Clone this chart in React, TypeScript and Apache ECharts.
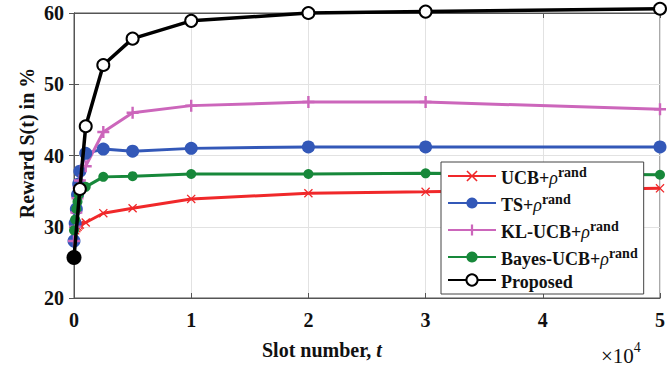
import React, { useEffect, useRef } from "react";
import * as echarts from "echarts";

const xBaselines = [0, 100, 200, 300, 400, 500, 1000, 2500, 5000, 10000, 20000, 30000, 50000];
const ucbValues = [29.0, 29.5, 29.8, 30.0, 30.2, 30.3, 30.6, 31.9, 32.6, 33.9, 34.7, 34.9, 35.4];
const tsValues = [28.0, 30.5, 32.5, 34.5, 36.0, 37.8, 40.3, 40.9, 40.6, 41.0, 41.2, 41.2, 41.2];
const klValues = [28.0, 30.0, 32.0, 34.0, 35.5, 36.5, 38.5, 43.3, 46.0, 47.0, 47.5, 47.5, 46.5];
const bayesValues = [29.5, 31.0, 32.5, 33.5, 34.5, 35.0, 35.6, 37.0, 37.1, 37.4, 37.4, 37.5, 37.3];
const xProposed = [0, 500, 1000, 2500, 5000, 10000, 20000, 30000, 50000];
const proposedValues = [25.7, 35.3, 44.1, 52.7, 56.4, 58.9, 60.0, 60.2, 60.6];
const seriesNames = ["UCB+ρrand", "TS+ρrand", "KL-UCB+ρrand", "Bayes-UCB+ρrand", "Proposed"];
const xTicks = [0, 1, 2, 3, 4, 5];
const yTicks = [20, 30, 40, 50, 60];

const SERIF = "'Liberation Serif', 'DejaVu Serif', serif";

const xMark = "path://M1,0L5,4L9,0L10,1L6,5L10,9L9,10L5,6L1,10L0,9L4,5L0,1Z";
const plusMark = "path://M4,0H6V4H10V6H6V10H4V6H0V4H4Z";

export default function App() {
  const ref = useRef<HTMLDivElement>(null);
  useEffect(() => {
    if (!ref.current) return;
    const chart = echarts.init(ref.current, null, { renderer: "svg" });
    const pair = (xs: number[], ys: number[]) => xs.map((x, i) => [x, ys[i]]);
    const common = { type: "line", clip: false, lineStyle: { width: 3 }, z: 3 };
    const option: any = {
      animation: false,
      backgroundColor: "#fff",
      grid: {
        left: 74,
        right: 8,
        top: 13,
        bottom: 78,
        show: true,
        borderColor: "#555",
        borderWidth: 1,
      },
      xAxis: [
        {
          type: "value",
          min: 0,
          max: 50000,
          interval: 10000,
          axisLine: { show: true, lineStyle: { color: "#555" } },
          axisTick: { show: true, inside: true, length: 5, lineStyle: { color: "#555" } },
          splitLine: { show: true, lineStyle: { color: "#e2e2e2" } },
          axisLabel: {
            formatter: (v: number) => String(xTicks[Math.round(v / 10000)]),
            fontFamily: SERIF,
            fontWeight: "bold",
            fontSize: 20,
            color: "#111",
            margin: 12,
          },
        },
        {
          type: "value",
          position: "top",
          min: 0,
          max: 50000,
          interval: 10000,
          axisLine: { show: true, lineStyle: { color: "#555" } },
          axisTick: { show: true, inside: true, length: 5, lineStyle: { color: "#555" } },
          splitLine: { show: false },
          axisLabel: { show: false },
        },
      ],
      yAxis: [
        {
          type: "value",
          min: 20,
          max: 60,
          interval: 10,
          axisLine: { show: true, lineStyle: { color: "#555" } },
          axisTick: { show: true, inside: true, length: 5, lineStyle: { color: "#555" } },
          splitLine: { show: true, lineStyle: { color: "#e2e2e2" } },
          axisLabel: {
            formatter: (v: number) => (yTicks.includes(v) ? String(v) : ""),
            fontFamily: SERIF,
            fontWeight: "bold",
            fontSize: 20,
            color: "#111",
            margin: 10,
          },
        },
        {
          type: "value",
          position: "right",
          min: 20,
          max: 60,
          interval: 10,
          axisLine: { show: true, lineStyle: { color: "#555" } },
          axisTick: { show: true, inside: true, length: 5, lineStyle: { color: "#555" } },
          splitLine: { show: false },
          axisLabel: { show: false },
        },
      ],
      legend: {
        orient: "vertical",
        left: 441,
        top: 162,
        width: 222,
        padding: [3, 6, 3, 6],
        itemGap: 5,
        itemWidth: 48,
        itemHeight: 14,
        backgroundColor: "#fff",
        borderColor: "#444",
        borderWidth: 1,
        borderRadius: 0,
        data: seriesNames,
        formatter: (name: string) => {
          if (name.endsWith("+ρrand")) {
            const pre = name.slice(0, name.length - 5);
            return `{b|${pre}}{i|ρ}{s|rand}`;
          }
          return `{b|${name}}`;
        },
        textStyle: {
          color: "#111",
          rich: {
            b: { fontFamily: SERIF, fontWeight: "bold", fontSize: 18, color: "#111", lineHeight: 22, verticalAlign: "bottom" },
            i: { fontFamily: SERIF, fontStyle: "italic", fontSize: 18, color: "#111", lineHeight: 22, verticalAlign: "bottom" },
            s: { fontFamily: SERIF, fontWeight: "bold", fontSize: 14, color: "#111", lineHeight: 22, verticalAlign: "top", padding: [0, 0, 8, 0] },
          },
        },
      },
      series: [
        {
          ...common,
          name: seriesNames[0],
          data: pair(xBaselines, ucbValues),
          color: "#f0282a",
          symbol: xMark,
          symbolSize: 9,
        },
        {
          ...common,
          name: seriesNames[1],
          data: pair(xBaselines, tsValues),
          color: "#3358b8",
          symbol: "circle",
          symbolSize: 13,
        },
        {
          ...common,
          name: seriesNames[2],
          data: pair(xBaselines, klValues),
          color: "#cc66bb",
          symbol: plusMark,
          symbolSize: 12,
        },
        {
          ...common,
          name: seriesNames[3],
          data: pair(xBaselines, bayesValues),
          color: "#17883a",
          symbol: "circle",
          symbolSize: 10,
        },
        {
          ...common,
          name: seriesNames[4],
          data: pair(xProposed, proposedValues).map((p, i) =>
            i === 0 ? { value: p, symbol: "circle", symbolSize: 15 } : p
          ),
          color: "#000",
          symbol: "emptyCircle",
          symbolSize: 12,
          itemStyle: { borderWidth: 2.5, color: "#000" },
          lineStyle: { width: 3.5, color: "#000" },
          z: 4,
        },
      ],
      graphic: [
        {
          type: "text",
          x: 27,
          y: 143,
          rotation: Math.PI / 2,
          style: {
            text: "Reward S(t) in %",
            fontFamily: SERIF,
            fontWeight: "bold",
            fontSize: 20,
            fill: "#111",
            align: "center",
            verticalAlign: "middle",
          },
        },
        {
          type: "text",
          left: 262,
          top: 340,
          style: {
            text: "{b|Slot number, }{i|t}",
            rich: {
              b: { fontFamily: SERIF, fontWeight: "bold", fontSize: 20, fill: "#111" },
              i: { fontFamily: SERIF, fontWeight: "bold", fontStyle: "italic", fontSize: 20, fill: "#111" },
            },
          },
        },
        {
          type: "text",
          left: 601,
          top: 340,
          style: {
            text: "{a|×10}{s|4}",
            rich: {
              a: { fontFamily: SERIF, fontSize: 21, fill: "#111", lineHeight: 26, verticalAlign: "bottom" },
              s: { fontFamily: SERIF, fontSize: 14, fill: "#111", lineHeight: 26, verticalAlign: "top", padding: [0, 0, 10, 0] },
            },
          },
        },
      ],
    };
    chart.setOption(option);
    return () => chart.dispose();
  }, []);
  return <div ref={ref} style={{ position: "absolute", left: 0, top: 0, width: 668, height: 376 }} />;
}
